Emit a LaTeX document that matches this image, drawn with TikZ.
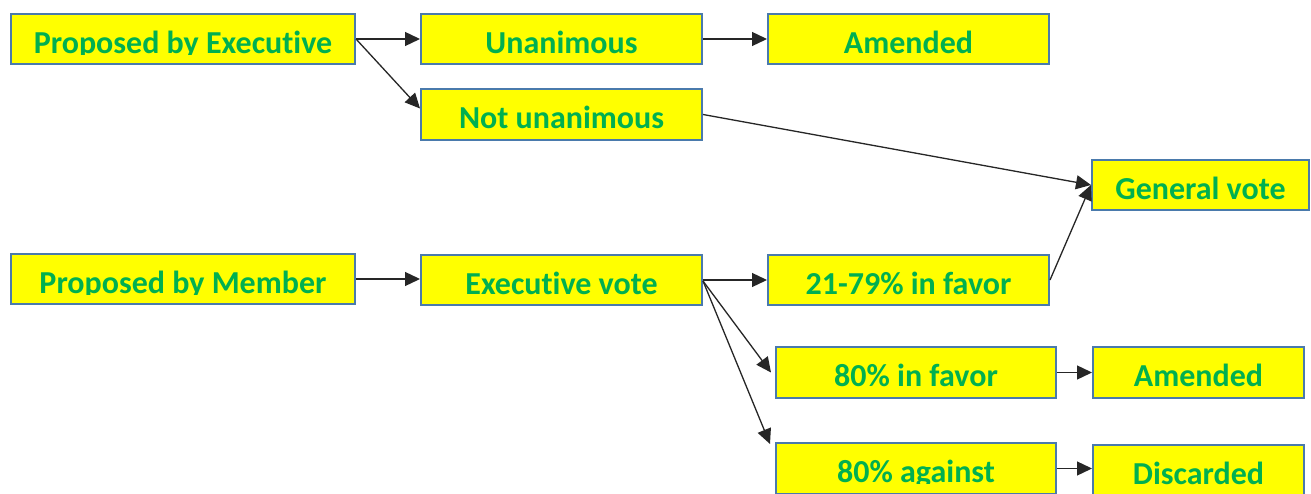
\documentclass[tikz,border=0pt]{standalone}
\usepackage{fontspec}
\setmainfont{Carlito}[Ligatures=NoCommon]
\usetikzlibrary{arrows.meta}
\definecolor{boxfill}{RGB}{255,255,0}
\definecolor{boxline}{RGB}{74,122,172}
\definecolor{txtgreen}{RGB}{0,176,80}
\tikzset{
  boxst/.style={draw=boxline, fill=boxfill, line width=2pt, inner sep=0pt, rectangle},
  txtst/.style={inner sep=0pt, text=txtgreen, font=\fontsize{32}{32}\selectfont\bfseries},
  conn/.style={draw=black!85, line width=1.3pt, -{Triangle[length=15pt,width=14pt]}}
}
\newcommand\flowbox[6]{%
  \node[boxst, minimum width={(#4-#2)*1pt}, minimum height={(#5-#3)*1pt}] (#1) at ({(#2+#4)/2},{(#3+#5)/2}) {};
  \begin{scope}
    \clip (#2,#3) rectangle (#4,#3+40.2);
    \node[txtst, anchor=base] (#1t) at ({(#2+#4)/2},#3+39.8) {#6};
  \end{scope}%
}
\begin{document}
\begin{tikzpicture}[x=1pt,y=-1pt]
\useasboundingbox (0,0) rectangle (1311,494);
\fill[white] (0,0) rectangle (1311,494);
\clip (0,0) rectangle (1311,494);
\flowbox{PE}{11}{14}{355}{64}{Proposed by Executive}
\flowbox{U}{421}{14}{702}{64}{Unanimous}
\flowbox{A1}{768}{14}{1049}{64}{Amended}
\flowbox{NU}{421}{89}{702}{140}{Not unanimous}
\flowbox{GV}{1092}{160}{1309}{210}{General vote}
\flowbox{PM}{11}{254}{355}{304}{Proposed by Member}
\flowbox{EV}{421}{255}{702}{305}{Executive vote}
\flowbox{F2179}{768}{255}{1049}{305}{21-79\% in favor}
\flowbox{F80}{776}{347}{1056}{398}{80\% in favor}
\flowbox{A2}{1093}{347}{1304}{398}{Amended}
\flowbox{A80}{776}{443}{1056}{494}{80\% against}
\flowbox{D}{1093}{445}{1304}{496}{Discarded}
\draw[conn] (PE.east) -- (U.west);
\draw[conn] (PE.east) -- ([yshift=6pt]NU.west);
\draw[conn] (U.east) -- (A1.west);
\draw[conn] (NU.east) -- (GV.west);
\draw[conn] (F2179.east) -- (GV.west);
\draw[conn] (PM.east) -- (PM.east -| EV.west);
\draw[conn] (EV.east) -- (F2179.west);
\draw[conn] ([yshift=-1pt]EV.east) -- ([xshift=-4pt]F80.west);
\draw[conn] ([yshift=-1pt]EV.east) -- ([xshift=-5pt,yshift=-2pt]A80.north west);
\draw[conn] (F80.east) -- (A2.west);
\draw[conn] (A80.east) -- (A80.east -| D.west);
\end{tikzpicture}
\end{document}
